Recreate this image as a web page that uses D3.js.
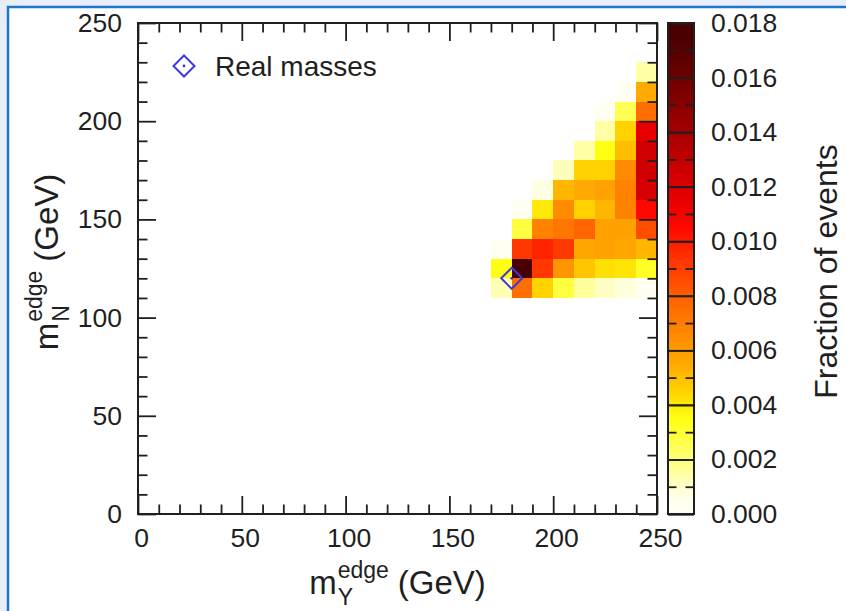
<!DOCTYPE html>
<html>
<head>
<meta charset="utf-8">
<script src="https://cdn.jsdelivr.net/npm/d3@7"></script>
<style>
  html, body { margin: 0; padding: 0; background: #ffffff; }
  svg { display: block; font-family: "Liberation Sans", Arial, Helvetica, sans-serif; }
</style>
</head>
<body>
<svg id="chart" width="846" height="611"></svg>
<script>
// Bin lower edges (GeV), 10 GeV wide
const xBins = [170, 180, 190, 200, 210, 220, 230, 240];
const yBins = [110, 120, 130, 140, 150, 160, 170, 180, 190, 200, 210, 220];

// Fraction of events per bin: one row per yBins entry, one column per xBins entry (null = empty)
const fraction = [
  [0.0013, 0.0075, 0.0045, 0.0028, 0.0016, 0.0011, 0.0008, 0.0004],
  [0.0035, 0.0175, 0.0092, 0.0062, 0.0048, 0.0042, 0.0041, 0.0032],
  [0.0005, 0.0092, 0.0098, 0.0092, 0.0056, 0.0058, 0.0056, 0.0052],
  [null,   0.0028, 0.0068, 0.0072, 0.0078, 0.0058, 0.0058, 0.0085],
  [null,   0.0003, 0.0040, 0.0065, 0.0045, 0.0052, 0.0068, 0.0105],
  [null,   null,   0.0007, 0.0052, 0.0055, 0.0058, 0.0068, 0.0122],
  [null,   null,   null,   0.0012, 0.0045, 0.0045, 0.0065, 0.0125],
  [null,   null,   null,   null,   0.0015, 0.0035, 0.0050, 0.0125],
  [null,   null,   null,   null,   null,   0.0015, 0.0045, 0.0115],
  [null,   null,   null,   null,   null,   0.0003, 0.0025, 0.0075],
  [null,   null,   null,   null,   null,   null,   0.0003, 0.0055],
  [null,   null,   null,   null,   null,   null,   null,   0.0015]
];

// Nominal (true) mass point
const realMasses = [{ x: 180, y: 120 }];

// Axis ticks
const axisMajor = [0, 50, 100, 150, 200, 250];
const axisMinor = d3.range(0, 251, 10);
const cbMajor = [0, 0.002, 0.004, 0.006, 0.008, 0.010, 0.012, 0.014, 0.016, 0.018];
const cbMinor = [0.001, 0.003, 0.005, 0.007, 0.009, 0.011, 0.013, 0.015, 0.017];

// Palette stops, one per 0.001 step (placed at the step centres)
const palette = [
  "#fffff2", "#ffffa4", "#ffff54", "#ffff12", "#ffd200", "#ffaa00",
  "#ff8c00", "#ff6e00", "#ff4e00", "#ff2e00", "#ff0800", "#e80000",
  "#d00000", "#b40000", "#980000", "#7c0000", "#620000", "#4a0000"
];

const svg = d3.select("#chart");
const W = 846, H = 611;
const plot = { left: 138, right: 657, top: 23, bottom: 514 };
const cbox = { left: 668, right: 694 };
const ink = "#1f1f1f";

// page background with blue frame line
svg.append("rect").attr("width", W).attr("height", H).attr("fill", "#e8eef7");
svg.append("rect").attr("x", 9).attr("y", 8).attr("width", W - 9).attr("height", H - 8).attr("fill", "#ffffff");
svg.append("path")
  .attr("d", `M8,${H} L8,7 L${W},7`)
  .attr("fill", "none").attr("stroke", "#1f76c8").attr("stroke-width", 2.5);

const x = d3.scaleLinear().domain([0, 250]).range([plot.left, plot.right]);
const y = d3.scaleLinear().domain([0, 250]).range([plot.bottom, plot.top]);
const c = d3.scaleLinear().domain([0, 0.018]).range([plot.bottom, plot.top]);
const stops = palette.map((_, i) => (i + 0.5) * 0.001);
const color = d3.scaleLinear().domain(stops).range(palette).clamp(true);

// heat-map cells
const cells = [];
yBins.forEach((yb, i) => xBins.forEach((xb, j) => {
  const v = fraction[i][j];
  if (v !== null) cells.push({ x0: xb, y0: yb, v });
}));
svg.append("g").selectAll("rect").data(cells).join("rect")
  .attr("x", d => x(d.x0))
  .attr("y", d => y(d.y0 + 10))
  .attr("width", d => x(d.x0 + 10) - x(d.x0))
  .attr("height", d => y(d.y0) - y(d.y0 + 10))
  .attr("fill", d => color(d.v))
  .attr("shape-rendering", "crispEdges");

// inward ticks on all four sides of the plot frame
function styleAxis(g, size) {
  g.select(".domain").remove();
  g.selectAll(".tick line").attr("stroke", ink).attr("stroke-width", 1.8);
  g.selectAll(".tick text").attr("fill", ink).attr("font-size", size || 26);
}
const minorOnly = axisMinor.filter(v => !axisMajor.includes(v));
[[d3.axisBottom, `translate(0,${plot.bottom})`, x],
 [d3.axisTop, `translate(0,${plot.top})`, x],
 [d3.axisLeft, `translate(${plot.left},0)`, y],
 [d3.axisRight, `translate(${plot.right},0)`, y]].forEach(([ax, tr, sc]) => {
  svg.append("g").attr("transform", tr)
    .call(ax(sc).tickValues(minorOnly).tickSize(-9.5).tickFormat(""))
    .call(styleAxis);
  svg.append("g").attr("transform", tr)
    .call(ax(sc).tickValues(axisMajor).tickSize(-18).tickFormat(""))
    .call(styleAxis);
});

// tick labels
svg.append("g").attr("transform", `translate(3,${plot.bottom})`)
  .call(d3.axisBottom(x).tickValues(axisMajor).tickSize(0).tickPadding(14).tickFormat(d3.format("d")))
  .call(styleAxis, 26.5);
svg.append("g").attr("transform", `translate(${plot.left - 16},0)`)
  .call(d3.axisLeft(y).tickValues(axisMajor).tickSize(0).tickPadding(0).tickFormat(d3.format("d")))
  .call(styleAxis, 26.5);

svg.append("rect")
  .attr("x", plot.left).attr("y", plot.top)
  .attr("width", plot.right - plot.left).attr("height", plot.bottom - plot.top)
  .attr("fill", "none").attr("stroke", ink).attr("stroke-width", 2);

// real-mass marker
function diamond(g, cx, cy, r) {
  g.append("path")
    .attr("d", `M${cx},${cy - r} L${cx + r},${cy} L${cx},${cy + r} L${cx - r},${cy} Z`)
    .attr("fill", "none").attr("stroke", "#3a3ae0").attr("stroke-width", 2);
  g.append("circle").attr("cx", cx).attr("cy", cy).attr("r", 1.4).attr("fill", "#3a3ae0");
}
realMasses.forEach(p => diamond(svg.append("g"), x(p.x), y(p.y), 10.5));

// legend
diamond(svg.append("g"), 184, 66, 10.5);
svg.append("text").attr("x", 215).attr("y", 76).attr("font-size", 28).attr("fill", ink).text("Real masses");

// colour box: continuous gradient
const grad = svg.append("defs").append("linearGradient")
  .attr("id", "cbgrad").attr("gradientUnits", "userSpaceOnUse")
  .attr("x1", 0).attr("x2", 0).attr("y1", c(0)).attr("y2", c(0.018));
grad.append("stop").attr("offset", 0).attr("stop-color", palette[0]);
grad.selectAll("stop.s").data(palette).join("stop").attr("class", "s")
  .attr("offset", (d, i) => stops[i] / 0.018).attr("stop-color", d => d);
grad.append("stop").attr("offset", 1).attr("stop-color", palette[palette.length - 1]);
svg.append("rect")
  .attr("x", cbox.left).attr("y", plot.top)
  .attr("width", cbox.right - cbox.left).attr("height", plot.bottom - plot.top)
  .attr("fill", "url(#cbgrad)");
[[d3.axisLeft, cbox.left], [d3.axisRight, cbox.right]].forEach(([ax, px]) => {
  svg.append("g").attr("transform", `translate(${px},0)`)
    .call(ax(c).tickValues(cbMinor).tickSize(-8.5).tickFormat(""))
    .call(styleAxis);
  svg.append("g").attr("transform", `translate(${px},0)`)
    .call(ax(c).tickValues(cbMajor).tickSize(-(cbox.right - cbox.left)).tickFormat(""))
    .call(styleAxis);
});
svg.append("rect")
  .attr("x", cbox.left).attr("y", plot.top)
  .attr("width", cbox.right - cbox.left).attr("height", plot.bottom - plot.top)
  .attr("fill", "none").attr("stroke", ink).attr("stroke-width", 2);
svg.append("g").attr("transform", `translate(${cbox.right + 17},0)`)
  .call(d3.axisRight(c).tickValues(cbMajor).tickSize(0).tickPadding(0).tickFormat(d3.format(".3f")))
  .call(styleAxis, 26.5);

// axis titles: m with stacked sub/superscript, then units
function massTitle(g, sub) {
  const main = 33, small = 23;
  const m = g.append("text").attr("font-size", main).attr("fill", ink).text("m");
  const mw = m.node().getComputedTextLength();
  const s = g.append("text").attr("x", mw + 1).attr("y", 11).attr("font-size", small).attr("fill", ink).text(sub);
  const e = g.append("text").attr("x", mw + 1).attr("y", -16).attr("font-size", small).attr("fill", ink).text("edge");
  const w = Math.max(s.node().getComputedTextLength(), e.node().getComputedTextLength());
  const u = g.append("text").attr("x", mw + 1 + w + 9).attr("font-size", main).attr("fill", ink).text("(GeV)");
  return mw + 1 + w + 9 + u.node().getComputedTextLength();
}
const xt = svg.append("g");
const xw = massTitle(xt, "Y");
xt.attr("transform", `translate(${(plot.left + plot.right) / 2 - xw / 2},594)`);
const yt = svg.append("g");
const yw = massTitle(yt, "N");
yt.attr("transform", `translate(58,${262 + yw / 2}) rotate(-90)`);

svg.append("text")
  .attr("transform", `translate(837,${(plot.top + plot.bottom) / 2 + 3}) rotate(-90)`)
  .attr("text-anchor", "middle").attr("font-size", 32).attr("fill", ink)
  .text("Fraction of events");
</script>
</body>
</html>
